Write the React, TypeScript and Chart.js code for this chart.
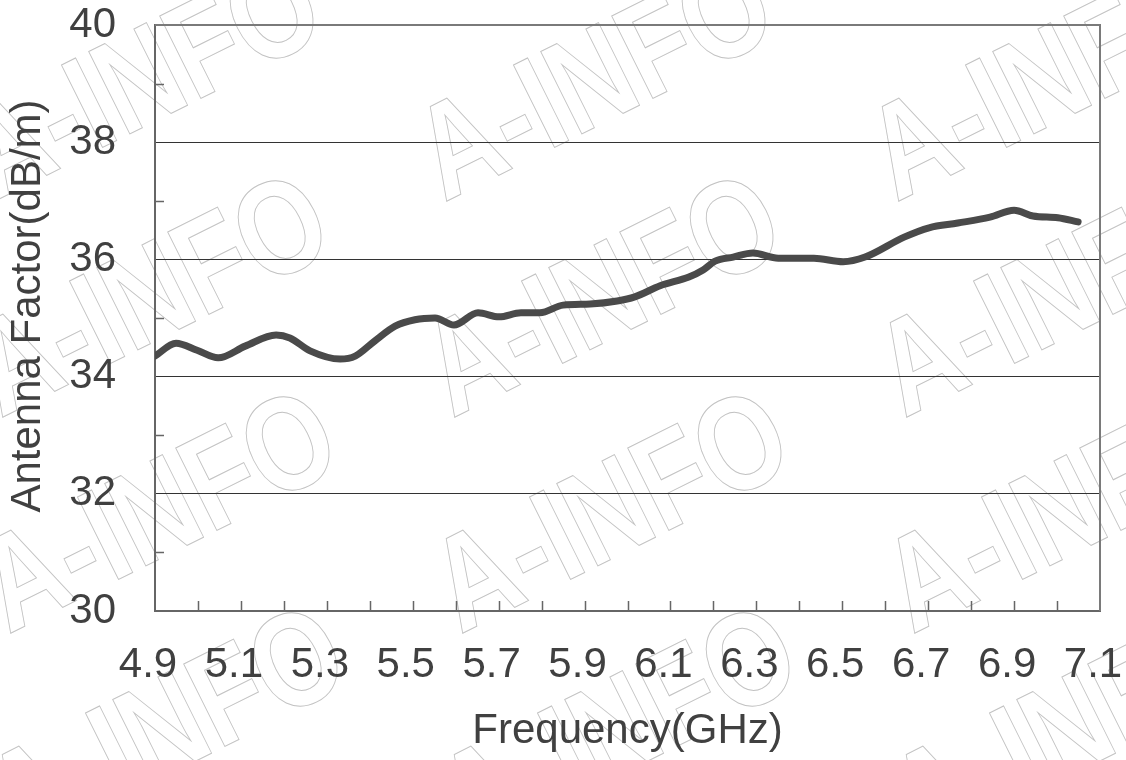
import React, { useEffect, useRef } from "react";
import { Chart, registerables } from "chart.js";

Chart.register(...registerables);

// ---- data ----
const frequencyGHz = [
  4.9, 4.949, 4.998, 5.047, 5.11, 5.182, 5.214, 5.261, 5.331, 5.366, 5.412,
  5.459, 5.505, 5.552, 5.596, 5.652, 5.701, 5.752, 5.796, 5.85, 5.913, 5.976,
  6.017, 6.076, 6.143, 6.176, 6.204, 6.246, 6.292, 6.351, 6.434, 6.502, 6.553,
  6.644, 6.702, 6.769, 6.844, 6.9, 6.944, 7.002, 7.049,
];
const antennaFactor = [
  34.35, 34.57, 34.45, 34.32, 34.52, 34.71, 34.66, 34.44, 34.3, 34.35, 34.61,
  34.86, 34.97, 35.0, 34.88, 35.09, 35.02, 35.09, 35.09, 35.22, 35.24, 35.29,
  35.36, 35.55, 35.7, 35.82, 35.97, 36.04, 36.11, 36.02, 36.02, 35.96, 36.04,
  36.38, 36.54, 36.62, 36.72, 36.84, 36.74, 36.71, 36.64,
];
const xTickLabels = ["4.9", "5.1", "5.3", "5.5", "5.7", "5.9", "6.1", "6.3", "6.5", "6.7", "6.9", "7.1"];
const yTickLabels = ["30", "32", "34", "36", "38", "40"];
const xTitle = "Frequency(GHz)";
const yTitle = "Antenna Factor(dB/m)";
const watermarkText = "A-INFO";

const FONT = '"Liberation Sans", Arial, sans-serif';
const TEXT = "#404040";

const framePlugin = {
  id: "frameAndWatermark",
  beforeDraw(chart: any) {
    const ctx = chart.ctx;
    ctx.save();
    ctx.fillStyle = "#ffffff";
    ctx.fillRect(0, 0, chart.width, chart.height);
    ctx.font = `bold 134px ${FONT}`;
    ctx.strokeStyle = "#c2c2c2";
    ctx.lineWidth = 1;
    ctx.textAlign = "center";
    ctx.textBaseline = "middle";
    for (let i = 0; i < 3; i++) {
      for (let j = 0; j < 4; j++) {
        const cx = 145 + 452 * i + 8 * j;
        const cy = 85 + 216 * j;
        ctx.save();
        ctx.translate(cx, cy);
        ctx.rotate((-26.5 * Math.PI) / 180);
        ctx.scale(0.82, 1);
        ctx.strokeText(watermarkText, 0, 0);
        ctx.restore();
      }
    }
    ctx.restore();
  },
  afterDraw(chart: any) {
    const { ctx, chartArea: a, scales } = chart;
    const x = scales.x;
    const y = scales.y;
    ctx.save();
    ctx.strokeStyle = "#666666";
    ctx.lineWidth = 1.5;
    ctx.beginPath();
    x.ticks.forEach((t: any) => {
      const px = Math.round(x.getPixelForValue(t.value)) + 0.5;
      if (px <= a.left + 2 || px >= a.right - 2) return;
      ctx.moveTo(px, a.bottom);
      ctx.lineTo(px, a.bottom - 10);
    });
    y.ticks.forEach((t: any) => {
      const v = Math.round(t.value);
      if (v % 2 === 0) return;
      const py = Math.round(y.getPixelForValue(t.value)) + 0.5;
      ctx.moveTo(a.left, py);
      ctx.lineTo(a.left + 9, py);
    });
    ctx.stroke();
    ctx.strokeStyle = "#7a7a7a";
    ctx.lineWidth = 2;
    ctx.beginPath();
    ctx.moveTo(a.left, a.top);
    ctx.lineTo(a.right, a.top);
    ctx.lineTo(a.right, a.bottom);
    ctx.stroke();

    // y-axis title (rotated), placed slightly above the plot centre as in the reference
    ctx.fillStyle = TEXT;
    ctx.font = `42px ${FONT}`;
    ctx.textAlign = "center";
    ctx.textBaseline = "middle";
    ctx.translate(28, (a.top + a.bottom) / 2 - 12);
    ctx.rotate(-Math.PI / 2);
    ctx.fillText(yTitle, 0, 0);
    ctx.restore();
  },
};

export default function App() {
  const canvasRef = useRef<HTMLCanvasElement | null>(null);

  useEffect(() => {
    if (!canvasRef.current) return;
    const points = frequencyGHz.map((f, i) => ({ x: f, y: antennaFactor[i] }));
    const chart = new Chart(canvasRef.current, {
      type: "line",
      data: {
        datasets: [
          {
            data: points,
            borderColor: "#4a4a4a",
            borderWidth: 7,
            pointRadius: 0,
            cubicInterpolationMode: "monotone",
            borderCapStyle: "round",
            borderJoinStyle: "round",
            fill: false,
          },
        ],
      },
      options: {
        animation: false,
        responsive: true,
        maintainAspectRatio: false,
        layout: { padding: { top: 25, right: 26, left: 0, bottom: 0 } },
        plugins: { legend: { display: false }, tooltip: { enabled: false } },
        scales: {
          x: {
            type: "linear",
            min: 4.9,
            max: 7.1,
            afterFit(s: any) {
              s.height = 149;
              s.paddingLeft = 0;
              s.paddingRight = 0;
            },
            ticks: {
              stepSize: 0.1,
              autoSkip: false,
              maxRotation: 0,
              minRotation: 0,
              padding: 29,
              labelOffset: -7,
              color: TEXT,
              font: { family: FONT, size: 42 },
              callback: (v: any) => {
                const s = Number(v).toFixed(1);
                return xTickLabels.includes(s) ? s : "";
              },
            },
            grid: { display: true, drawOnChartArea: false, drawTicks: false },
            border: { display: true, color: "#666666", width: 2 },
            title: {
              display: true,
              text: xTitle,
              color: TEXT,
              font: { family: FONT, size: 42 },
              padding: { top: 0, bottom: 3 },
            },
          },
          y: {
            min: 30,
            max: 40,
            afterFit(s: any) {
              s.width = 155;
              s.paddingTop = 0;
              s.paddingBottom = 0;
            },
            ticks: {
              stepSize: 1,
              autoSkip: false,
              padding: 39,
              color: TEXT,
              font: { family: FONT, size: 42 },
              callback: (v: any) => {
                const s = String(Math.round(Number(v)));
                return yTickLabels.includes(s) ? s : "";
              },
            },
            grid: {
              drawTicks: false,
              lineWidth: 1,
              color: (c: any) => {
                const v = Math.round(c.tick ? c.tick.value : 0);
                return v % 2 === 0 && v > 30 && v < 40 ? "#333333" : "rgba(0,0,0,0)";
              },
            },
            border: { display: true, color: "#666666", width: 2 },
            title: { display: false },
          },
        },
      },
      plugins: [framePlugin],
    } as any);
    return () => chart.destroy();
  }, []);

  return (
    <div style={{ position: "absolute", left: 0, top: 0, width: 1126, height: 760 }}>
      <canvas ref={canvasRef} />
    </div>
  );
}
